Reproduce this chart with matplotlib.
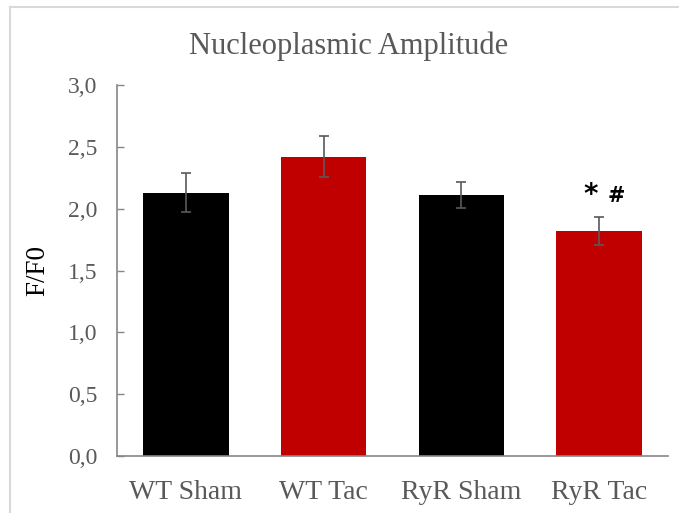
import matplotlib.pyplot as plt
from matplotlib.lines import Line2D
import numpy as np

groups = ["WT Sham", "WT Tac", "RyR Sham", "RyR Tac"]
means = [2.13, 2.42, 2.11, 1.82]
errors = [0.16, 0.165, 0.105, 0.11]
bar_colors = ["#000000", "#C00000", "#000000", "#C00000"]
yticks = [0.0, 0.5, 1.0, 1.5, 2.0, 2.5, 3.0]

plt.rcParams['font.family'] = ['Liberation Serif', 'DejaVu Serif']
grey = "#595959"

fig = plt.figure(figsize=(6.79, 5.13), dpi=100)
ax = fig.add_axes([0.1723, 0.1111, 0.8115, 0.7232])

x = np.arange(len(groups))
ax.bar(x, means, width=0.62, color=bar_colors, zorder=2)
ax.errorbar(x, means, yerr=errors, fmt='none', ecolor=grey, elinewidth=1.2,
            capsize=3.5, capthick=1.2, zorder=3)

# significance marks above RyR Tac
ax.text(x[3] - 0.01, means[3] + errors[3] + 0.07, "*", ha="right", va="bottom",
        fontsize=20, fontweight="bold", family="DejaVu Sans", color="black")
ax.text(x[3] + 0.06, means[3] + errors[3] + 0.09, "#", ha="left", va="bottom",
        fontsize=15, fontweight="bold", family="DejaVu Sans", color="black")

ax.set_xlim(-0.5, 3.5)
ax.set_ylim(0, 3.0)
ax.set_yticks(yticks)
ax.set_yticklabels([("%.1f" % v).replace(".", ",") for v in yticks],
                   fontsize=17, color=grey)
ax.set_xticks(x)
ax.set_xticklabels(groups, fontsize=20, color=grey)
ax.tick_params(axis="x", length=0, pad=17)
ax.tick_params(axis="y", direction="in", length=5, width=1, color="#868686", pad=14)

for side in ["top", "right"]:
    ax.spines[side].set_visible(False)
for side in ["left", "bottom"]:
    ax.spines[side].set_color("#868686")
    ax.spines[side].set_linewidth(1.2)

ax.set_ylabel("F/F0", fontsize=19.5, color="black", labelpad=13)
fig.text(0.513, 0.91, "Nucleoplasmic Amplitude", ha="center", va="center",
         fontsize=22, color=grey)

# light frame around the chart area
fig.add_artist(Line2D([10 / 679, 10 / 679], [0, 1 - 7 / 513], color="#d9d9d9",
                      lw=1.5, transform=fig.transFigure))
fig.add_artist(Line2D([10 / 679, 1], [1 - 7 / 513, 1 - 7 / 513], color="#d9d9d9",
                      lw=1.5, transform=fig.transFigure))

fig.savefig("out.png", dpi=100)
